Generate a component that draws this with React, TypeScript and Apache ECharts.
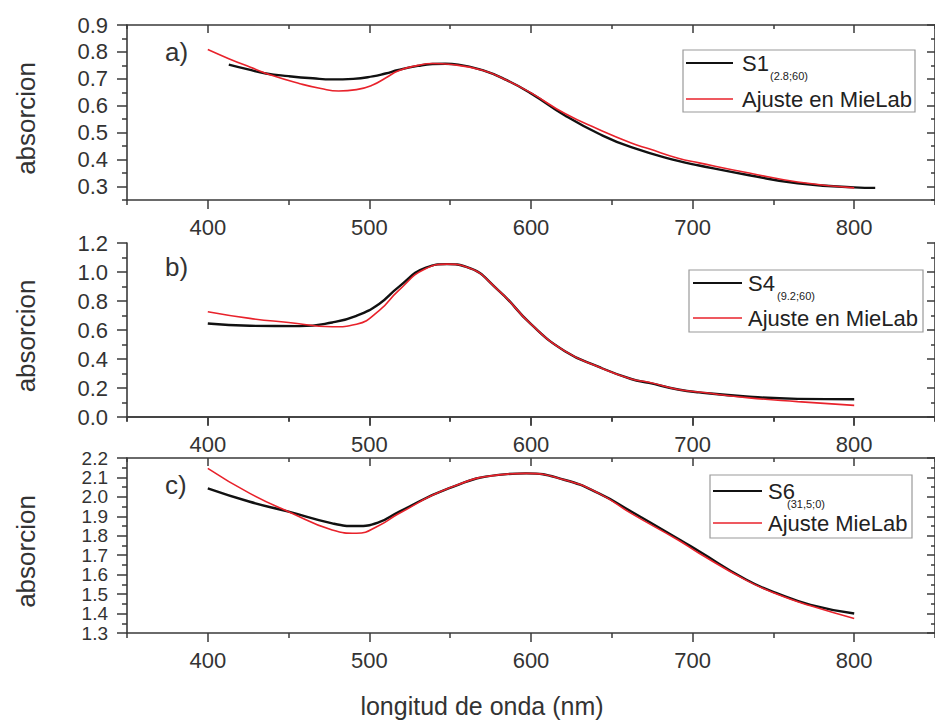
import React, { useEffect, useRef } from "react";
import * as echarts from "echarts";

// ---------- data ----------
const X_MAJOR = [400, 500, 600, 700, 800];
const X_MINOR = [350, 450, 550, 650, 750, 850];

const A_Y_MAJOR = [0.3, 0.4, 0.5, 0.6, 0.7, 0.8, 0.9];
const A_Y_MINOR = [0.25, 0.35, 0.45, 0.55, 0.65, 0.75, 0.85];
const B_Y_MAJOR = [0, 0.2, 0.4, 0.6, 0.8, 1.0, 1.2];
const B_Y_MINOR = [0.1, 0.3, 0.5, 0.7, 0.9, 1.1];
const C_Y_MAJOR = [1.3, 1.4, 1.5, 1.6, 1.7, 1.8, 1.9, 2.0, 2.1, 2.2];
const C_Y_MINOR = [1.35, 1.45, 1.55, 1.65, 1.75, 1.85, 1.95, 2.05, 2.15];

// Panel a
const A_S1_X = [413, 425, 436, 450, 465, 477, 490, 502, 510, 518, 530, 539, 547, 555, 570, 585, 600, 621, 642, 662, 691, 704, 735, 765, 800, 813];
const A_S1_Y = [0.753, 0.735, 0.72, 0.71, 0.702, 0.698, 0.7, 0.709, 0.72, 0.733, 0.748, 0.755, 0.756, 0.753, 0.732, 0.695, 0.646, 0.564, 0.496, 0.446, 0.395, 0.378, 0.342, 0.312, 0.297, 0.295];
const A_FIT_X = [400, 413, 426, 440, 457, 470, 481, 492, 502, 510, 518, 530, 539, 551, 570, 585, 600, 621, 642, 662, 673, 691, 704, 735, 765, 800];
const A_FIT_Y = [0.809, 0.775, 0.744, 0.712, 0.682, 0.664, 0.655, 0.66, 0.677, 0.703, 0.73, 0.75, 0.757, 0.753, 0.732, 0.695, 0.648, 0.571, 0.512, 0.462, 0.44, 0.405, 0.388, 0.35, 0.317, 0.295];

// Panel b
const B_S4_X = [400, 426, 457, 477, 492, 506, 518, 535, 548, 560, 580, 600, 621, 642, 662, 673, 691, 704, 735, 765, 800];
const B_S4_Y = [0.645, 0.629, 0.627, 0.652, 0.698, 0.78, 0.896, 1.03, 1.054, 1.035, 0.872, 0.64, 0.454, 0.345, 0.262, 0.235, 0.19, 0.17, 0.14, 0.125, 0.122];
const B_FIT_X = [400, 426, 450, 477, 492, 506, 518, 535, 548, 560, 580, 600, 621, 642, 662, 673, 691, 704, 735, 765, 800];
const B_FIT_Y = [0.726, 0.68, 0.652, 0.622, 0.64, 0.733, 0.872, 1.024, 1.054, 1.035, 0.872, 0.64, 0.454, 0.345, 0.262, 0.24, 0.19, 0.172, 0.132, 0.106, 0.08];

// Panel c
const C_S6_X = [400, 426, 450, 477, 492, 506, 518, 549, 580, 597, 621, 642, 662, 691, 704, 733, 752, 773, 800];
const C_S6_Y = [2.044, 1.975, 1.924, 1.864, 1.85, 1.87, 1.922, 2.044, 2.113, 2.121, 2.087, 2.018, 1.925, 1.785, 1.72, 1.575, 1.505, 1.445, 1.4];
const C_FIT_X = [400, 426, 450, 477, 492, 506, 518, 549, 580, 597, 621, 642, 662, 691, 704, 733, 752, 773, 800];
const C_FIT_Y = [2.147, 2.018, 1.924, 1.83, 1.813, 1.853, 1.913, 2.044, 2.113, 2.121, 2.087, 2.018, 1.915, 1.778, 1.71, 1.572, 1.5, 1.44, 1.375];

const PANEL_LABELS = ["a)", "b)", "c)"];
const LEGEND_MAIN = ["S1", "S4", "S6"];
const LEGEND_SUB = ["(2.8;60)", "(9.2;60)", "(31,5;0)"];
const LEGEND_FIT = ["Ajuste en MieLab", "Ajuste en MieLab", "Ajuste MieLab"];
const Y_TITLE = "absorcion";
const X_TITLE = "longitud de onda (nm)";

// ---------- layout ----------
const FONT = "Liberation Sans, Arial, sans-serif";
const AX = "#3a3a3a";
const GRIDS = [
  { top: 25, height: 175 },
  { top: 243, height: 174 },
  { top: 458, height: 175 },
];
const LEFT = 127;
const WIDTH = 811;

const zip = (xs: number[], ys: number[]) => xs.map((x, i) => [x, ys[i]]);

function buildOption() {
  const panels = [
    { ymin: 0.25, ymax: 0.9, major: A_Y_MAJOR, minor: A_Y_MINOR, fs: 22, s: zip(A_S1_X, A_S1_Y), f: zip(A_FIT_X, A_FIT_Y) },
    { ymin: 0, ymax: 1.2, major: B_Y_MAJOR, minor: B_Y_MINOR, fs: 22, s: zip(B_S4_X, B_S4_Y), f: zip(B_FIT_X, B_FIT_Y) },
    { ymin: 1.3, ymax: 2.2, major: C_Y_MAJOR, minor: C_Y_MINOR, fs: 19, s: zip(C_S6_X, C_S6_Y), f: zip(C_FIT_X, C_FIT_Y) },
  ];
  const grid: any[] = [];
  const xAxis: any[] = [];
  const yAxis: any[] = [];
  const series: any[] = [];
  const line = { show: true, lineStyle: { color: AX, width: 1.6 } };
  const noLine = { show: false };

  panels.forEach((p, g) => {
    grid.push({ left: LEFT, width: WIDTH, top: GRIDS[g].top, height: GRIDS[g].height });
    const xBase = { type: "value", gridIndex: g, min: 350, max: 850, splitLine: { show: false } };
    xAxis.push({
      ...xBase,
      position: "bottom",
      axisLine: line,
      axisTick: { show: true, inside: false, length: 9, customValues: X_MAJOR, lineStyle: { color: AX, width: 1.5 } },
      axisLabel: { show: true, customValues: X_MAJOR, fontSize: 22, fontFamily: FONT, color: "#333", margin: 16 },
    });
    xAxis.push({
      ...xBase,
      position: "bottom",
      axisLine: noLine,
      axisTick: { show: true, inside: false, length: 5, customValues: X_MINOR, lineStyle: { color: AX, width: 1.5 } },
      axisLabel: { show: false },
    });
    xAxis.push({
      ...xBase,
      position: "top",
      axisLine: line,
      axisTick: { show: true, inside: true, length: 8, customValues: X_MAJOR, lineStyle: { color: AX, width: 1.5 } },
      axisLabel: { show: false },
    });
    xAxis.push({
      ...xBase,
      position: "top",
      axisLine: noLine,
      axisTick: { show: true, inside: true, length: 4, customValues: X_MINOR, lineStyle: { color: AX, width: 1.5 } },
      axisLabel: { show: false },
    });

    const yBase = { type: "value", gridIndex: g, min: p.ymin, max: p.ymax, splitLine: { show: false } };
    yAxis.push({
      ...yBase,
      position: "left",
      axisLine: line,
      axisTick: { show: true, inside: false, length: 10, customValues: p.major, lineStyle: { color: AX, width: 1.5 } },
      axisLabel: {
        show: true,
        customValues: p.major,
        fontSize: p.fs,
        fontFamily: FONT,
        color: "#333",
        margin: 19,
        formatter: (v: number) => v.toFixed(1),
      },
      name: Y_TITLE,
      nameLocation: "middle",
      nameRotate: 90,
      nameGap: 88,
      nameTextStyle: { fontSize: 26, fontFamily: FONT, color: "#333", padding: [0, 12, 0, 0] },
    });
    yAxis.push({
      ...yBase,
      position: "left",
      axisLine: noLine,
      axisTick: { show: true, inside: false, length: 5, customValues: p.minor, lineStyle: { color: AX, width: 1.5 } },
      axisLabel: { show: false },
    });
    yAxis.push({
      ...yBase,
      position: "right",
      axisLine: line,
      axisTick: { show: true, inside: true, length: 8, customValues: p.major, lineStyle: { color: AX, width: 1.5 } },
      axisLabel: { show: false },
    });
    yAxis.push({
      ...yBase,
      position: "right",
      axisLine: noLine,
      axisTick: { show: true, inside: true, length: 4, customValues: p.minor, lineStyle: { color: AX, width: 1.5 } },
      axisLabel: { show: false },
    });

    series.push({
      type: "line",
      name: LEGEND_MAIN[g],
      xAxisIndex: 4 * g,
      yAxisIndex: 4 * g,
      data: p.s,
      smooth: 0.5,
      showSymbol: false,
      symbol: "none",
      lineStyle: { color: "#111", width: 2.4 },
      z: 3,
    });
    series.push({
      type: "line",
      name: LEGEND_FIT[g],
      xAxisIndex: 4 * g,
      yAxisIndex: 4 * g,
      data: p.f,
      smooth: 0.5,
      showSymbol: false,
      symbol: "none",
      lineStyle: { color: "#e8222b", width: 1.6 },
      z: 4,
    });
  });

  const legendBoxes = [
    { x: 683, y: 50, w: 232, h: 62, lx1: 686, lx2: 733, tx: 742, r1: 63, r2: 99, subDx: 28 },
    { x: 689, y: 270, w: 234, h: 62, lx1: 693, lx2: 742, tx: 748, r1: 283, r2: 318, subDx: 29 },
    { x: 710, y: 475, w: 202, h: 63, lx1: 713, lx2: 762, tx: 768, r1: 491, r2: 523, subDx: 19 },
  ];
  const graphic: any[] = [];
  legendBoxes.forEach((b, g) => {
    graphic.push({
      type: "rect",
      shape: { x: b.x, y: b.y, width: b.w, height: b.h },
      style: { fill: "#fff", stroke: "#9a9a9a", lineWidth: 1.2 },
      z: 10,
    });
    graphic.push({ type: "line", shape: { x1: b.lx1, y1: b.r1, x2: b.lx2, y2: b.r1 }, style: { stroke: "#111", lineWidth: 2 }, z: 11 });
    graphic.push({ type: "line", shape: { x1: b.lx1, y1: b.r2, x2: b.lx2, y2: b.r2 }, style: { stroke: "#e8222b", lineWidth: 1.6 }, z: 11 });
    graphic.push({
      type: "text",
      x: b.tx,
      y: b.r1,
      style: { text: LEGEND_MAIN[g], font: `22px ${FONT}`, fill: "#222", verticalAlign: "middle", align: "left" },
      z: 11,
    });
    graphic.push({
      type: "text",
      x: b.tx + b.subDx,
      y: b.r1 + 13,
      style: { text: LEGEND_SUB[g], font: `11px ${FONT}`, fill: "#222", verticalAlign: "middle", align: "left" },
      z: 11,
    });
    graphic.push({
      type: "text",
      x: b.tx,
      y: b.r2,
      style: { text: LEGEND_FIT[g], font: `22px ${FONT}`, fill: "#222", verticalAlign: "middle", align: "left" },
      z: 11,
    });
  });
  const labelY = [52, 267, 485];
  PANEL_LABELS.forEach((t, g) => {
    graphic.push({
      type: "text",
      x: 165,
      y: labelY[g],
      style: { text: t, font: `26px ${FONT}`, fill: "#333", verticalAlign: "middle", align: "left" },
      z: 11,
    });
  });
  graphic.push({
    type: "text",
    x: 482,
    y: 706,
    style: { text: X_TITLE, font: `25px ${FONT}`, fill: "#333", verticalAlign: "middle", align: "center" },
    z: 11,
  });

  return { animation: false, backgroundColor: "#fff", grid, xAxis, yAxis, series, graphic };
}

export default function App() {
  const ref = useRef<HTMLDivElement>(null);
  useEffect(() => {
    if (!ref.current) return;
    const chart = echarts.init(ref.current, undefined, { renderer: "svg" });
    chart.setOption(buildOption() as any);
    return () => chart.dispose();
  }, []);
  return <div ref={ref} style={{ position: "absolute", left: 0, top: 0, width: 935, height: 723, background: "#fff" }} />;
}
